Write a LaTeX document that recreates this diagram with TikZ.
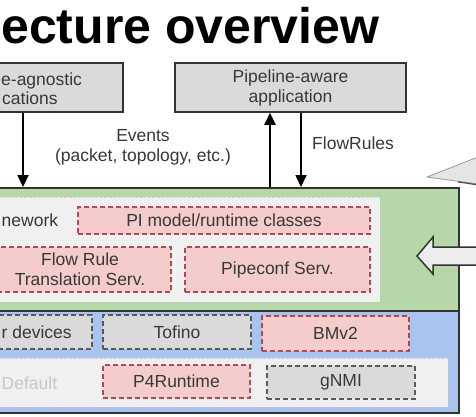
\documentclass[tikz,border=0pt]{standalone}
\usepackage{fontspec}
\setmainfont{Liberation Sans}
\usetikzlibrary{arrows.meta}
\definecolor{txt}{HTML}{383838}
\definecolor{boxgray}{HTML}{DADADA}
\definecolor{edge}{HTML}{333333}
\definecolor{greenfill}{HTML}{B6D7A8}
\definecolor{bluefill}{HTML}{A9C4EE}
\definecolor{pink}{HTML}{F4CCCC}
\definecolor{reddash}{HTML}{B0485A}
\definecolor{graydash}{HTML}{5A5A5A}
\definecolor{panelfill}{HTML}{F0F0F0}
\definecolor{paneledge}{HTML}{C4C4C4}
\tikzset{
  lbl/.style={font=\fontsize{17.5}{20}\selectfont, text=txt, align=center, inner sep=0pt},
  appbox/.style={draw=edge, line width=1.5pt, fill=boxgray, inner sep=0pt, lbl},
  layer/.style={draw=edge, line width=2pt, inner sep=0pt},
  panel/.style={draw=paneledge, line width=1pt, dash pattern=on 1pt off 1.5pt, fill=panelfill, inner sep=0pt},
  redbox/.style={draw=reddash, line width=1.3pt, dash pattern=on 5pt off 3pt, fill=pink, lbl},
  graybox/.style={draw=graydash, line width=1.3pt, dash pattern=on 5pt off 3pt, fill=boxgray, lbl},
  arr/.style={line width=2.2pt, draw=black, -{Triangle[length=12pt,width=11pt]}},
  arrthin/.style={line width=1.6pt, draw=black, -{Triangle[length=12pt,width=11pt]}},
}
\begin{document}
\begin{tikzpicture}[x=1pt,y=-1pt]
\useasboundingbox (0,0) rectangle (476,416);
\clip (0,0) rectangle (476,416);
\fill[white] (0,0) rectangle (476,416);
% title
\node[anchor=base west, inner sep=0pt, font=\fontsize{50}{56}\bfseries\selectfont] (title) at (1,43) {ecture overview};
% application boxes
\node[appbox, minimum width=163pt, minimum height=49pt] (lapp) at (41.5,87.5) {};
\node[lbl, anchor=base west] (lt1) at (1,85) {e-agnostic};
\node[lbl, anchor=base west] (lt2) at (2,104) {cations};
\node[appbox, minimum width=231pt, minimum height=49pt] (rapp) at (290.5,87.5) {Pipeline-aware\\application};
% layers
\node[layer, fill=greenfill, minimum width=469pt, minimum height=123pt] (green) at (224.5,249.5) {};
\node[layer, fill=bluefill, minimum width=469pt, minimum height=102pt] (blue) at (224.5,362) {};
\node[panel, minimum width=390pt, minimum height=105pt] (gpanel) at (185,249.5) {};
\node[panel, minimum width=458pt, minimum height=49pt] (bpanel) at (219,382.5) {};
% green layer contents
\node[lbl, anchor=base west] (fw) at (1.5,226) {nework};
\node[redbox, minimum width=292pt, minimum height=27pt] (pi) at (224,220.5) {PI model/runtime classes};
\node[redbox, minimum width=182pt, minimum height=45pt] (frt) at (80,269.5) {Flow Rule\\Translation Serv.};
\node[redbox, minimum width=185pt, minimum height=45pt] (pcs) at (277.5,269.5) {Pipeconf Serv.};
% blue layer contents
\node[graybox, minimum width=102pt, minimum height=34pt] (rdev) at (41,332) {};
\node[lbl, anchor=base west] (rdevt) at (1.5,338) {r devices};
\node[graybox, minimum width=148pt, minimum height=34pt] (tof) at (177,332) {Tofino};
\node[redbox, minimum width=147pt, minimum height=35pt] (bmv) at (335.5,333.5) {BMv2};
\node[lbl, anchor=base west, text=black!22] (dflt) at (1.5,389) {Default};
\node[redbox, minimum width=147pt, minimum height=33pt] (p4r) at (176.5,381.5) {P4Runtime};
\node[graybox, minimum width=148pt, minimum height=33pt] (gnmi) at (341,382.5) {gNMI};
% labels
\node[lbl] (ev) at (143,147) {Events\\(packet, topology, etc.)};
\node[lbl, anchor=west] (fr) at (312,143) {FlowRules};
% arrows
\coordinate (ax1) at (23,0);
\coordinate (ax2) at (270,0);
\coordinate (ax3) at (301,0);
\draw[arr] (lapp.south -| ax1) -- (green.north -| ax1);
\draw[arr] (green.north -| ax2) -- (rapp.south -| ax2);
\draw[arrthin] (rapp.south -| ax3) -- (green.north -| ax3);
% callout pointer
\filldraw[fill=black!10, draw=black!40, line width=0.8pt] (427,177) -- (478,157) -- (478,184) -- cycle;
\draw[black!70, line width=1.2pt] (458,182) .. controls (466,183) .. (478,185);
% block arrow
\filldraw[fill=black!7, draw=edge, line width=1.5pt] (417,256) -- (433,237) -- (433,247) -- (480,247) -- (480,265) -- (433,265) -- (433,274) -- cycle;
\end{tikzpicture}
\end{document}
